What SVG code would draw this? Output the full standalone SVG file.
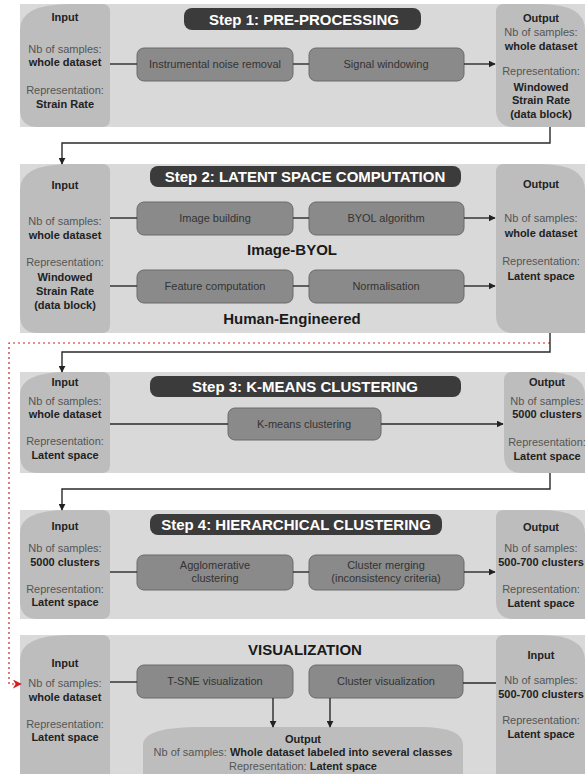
<svg xmlns="http://www.w3.org/2000/svg" width="586" height="774" viewBox="0 0 586 774">
<defs>
<marker id="ah" viewBox="0 0 10 10" refX="9" refY="5" markerWidth="7" markerHeight="7" orient="auto" markerUnits="userSpaceOnUse"><path d="M0,0 L10,5 L0,10 Z" fill="#222"/></marker>
<marker id="ahr" viewBox="0 0 10 10" refX="9" refY="5" markerWidth="9" markerHeight="9" orient="auto" markerUnits="userSpaceOnUse"><path d="M0,0 L10,5 L0,10 L3,5 Z" fill="#d21f1f"/></marker>
<style>
.panel{fill:#d9d9d9}
.io{fill:#bdbdbd}
.proc{fill:#8a8a8a;stroke:#6a6a6a;stroke-width:1}
.title{fill:#3b3b3b}
text{font-family:"Liberation Sans",Arial,sans-serif;text-anchor:middle}
.l{font-size:11px;fill:#555}
.b{font-size:11px;fill:#222;font-weight:bold}
.p{font-size:11px;fill:#333}
.t{font-size:15px;fill:#fff;font-weight:bold}
.h{font-size:15px;fill:#1a1a1a;font-weight:bold}
.c{fill:none;stroke:#2a2a2a;stroke-width:1.4}
.r{fill:none;stroke:#d21f1f;stroke-width:1.2;stroke-dasharray:2 3}
</style>
</defs>

<g id="step1">
<rect class="panel" x="20" y="4" width="565" height="123"/>
<path class="io" d="M20,30 Q20,4 70,4 L102,4 Q110,4 110,12 L110,119 Q110,127 102,127 L38,127 Q20,127 20,109 Z"/>
<path class="io" d="M496,12 Q496,4 504,4 L540,4 Q585,4 585,30 L585,127 L514,127 Q496,127 496,109 Z"/>
<rect class="title" x="184" y="8" width="237" height="22" rx="8"/>
<text class="t" x="304" y="25">Step 1: PRE-PROCESSING</text>
<text class="b" x="65" y="21">Input</text>
<text class="l" x="65" y="53">Nb of samples:</text>
<text class="b" x="65" y="66">whole dataset</text>
<text class="l" x="65" y="94">Representation:</text>
<text class="b" x="65" y="108">Strain Rate</text>
<rect class="proc" x="137" y="48" width="156" height="33" rx="7"/>
<text class="p" x="215" y="68">Instrumental noise removal</text>
<rect class="proc" x="309" y="48" width="155" height="33" rx="7"/>
<text class="p" x="386" y="68">Signal windowing</text>
<text class="b" x="541" y="22">Output</text>
<text class="l" x="541" y="36">Nb of samples:</text>
<text class="b" x="541" y="50">whole dataset</text>
<text class="l" x="541" y="75">Representation:</text>
<text class="b" x="541" y="91">Windowed</text>
<text class="b" x="541" y="104">Strain Rate</text>
<text class="b" x="541" y="118">(data block)</text>
</g>

<g id="step2">
<rect class="panel" x="20" y="164" width="565" height="169"/>
<path class="io" d="M20,190 Q20,164 70,164 L102,164 Q110,164 110,172 L110,325 Q110,333 102,333 L38,333 Q20,333 20,315 Z"/>
<path class="io" d="M496,172 Q496,164 504,164 L540,164 Q585,164 585,190 L585,333 L514,333 Q496,333 496,315 Z"/>
<rect class="title" x="150" y="166" width="311" height="21" rx="8"/>
<text class="t" x="305" y="182">Step 2: LATENT SPACE COMPUTATION</text>
<text class="b" x="65" y="189">Input</text>
<text class="l" x="65" y="225">Nb of samples:</text>
<text class="b" x="65" y="239">whole dataset</text>
<text class="l" x="65" y="266">Representation:</text>
<text class="b" x="65" y="281">Windowed</text>
<text class="b" x="65" y="295">Strain Rate</text>
<text class="b" x="65" y="309">(data block)</text>
<rect class="proc" x="137" y="202" width="156" height="33" rx="7"/>
<text class="p" x="215" y="222">Image building</text>
<rect class="proc" x="309" y="202" width="155" height="33" rx="7"/>
<text class="p" x="386" y="222">BYOL algorithm</text>
<text class="h" x="292" y="255">Image-BYOL</text>
<rect class="proc" x="137" y="270" width="156" height="33" rx="7"/>
<text class="p" x="215" y="290">Feature computation</text>
<rect class="proc" x="309" y="270" width="155" height="33" rx="7"/>
<text class="p" x="386" y="290">Normalisation</text>
<text class="h" x="292" y="324">Human-Engineered</text>
<text class="b" x="541" y="188">Output</text>
<text class="l" x="541" y="222">Nb of samples:</text>
<text class="b" x="541" y="237">whole dataset</text>
<text class="l" x="541" y="265">Representation:</text>
<text class="b" x="541" y="280">Latent space</text>
</g>

<g id="step3">
<rect class="panel" x="20" y="372" width="565" height="101"/>
<path class="io" d="M20,395 Q20,372 68,372 L102,372 Q110,372 110,380 L110,465 Q110,473 102,473 L38,473 Q20,473 20,455 Z"/>
<path class="io" d="M504,380 Q504,372 512,372 L545,372 Q585,372 585,395 L585,473 L522,473 Q504,473 504,455 Z"/>
<rect class="title" x="150" y="376" width="311" height="21" rx="8"/>
<text class="t" x="305" y="392">Step 3: K-MEANS CLUSTERING</text>
<text class="b" x="65" y="386">Input</text>
<text class="l" x="65" y="405">Nb of samples:</text>
<text class="b" x="65" y="418">whole dataset</text>
<text class="l" x="65" y="445">Representation:</text>
<text class="b" x="65" y="459">Latent space</text>
<rect class="proc" x="228" y="408" width="153" height="32" rx="7"/>
<text class="p" x="304" y="428">K-means clustering</text>
<text class="b" x="547" y="386">Output</text>
<text class="l" x="547" y="405">Nb of samples:</text>
<text class="b" x="547" y="418">5000 clusters</text>
<text class="l" x="547" y="446">Representation:</text>
<text class="b" x="547" y="460">Latent space</text>
</g>

<g id="step4">
<rect class="panel" x="20" y="510" width="565" height="109"/>
<path class="io" d="M20,533 Q20,510 68,510 L102,510 Q110,510 110,518 L110,611 Q110,619 102,619 L38,619 Q20,619 20,601 Z"/>
<path class="io" d="M496,518 Q496,510 504,510 L540,510 Q585,510 585,533 L585,619 L514,619 Q496,619 496,601 Z"/>
<rect class="title" x="150" y="514" width="292" height="21" rx="8"/>
<text class="t" x="296" y="530">Step 4: HIERARCHICAL CLUSTERING</text>
<text class="b" x="65" y="530">Input</text>
<text class="l" x="65" y="552">Nb of samples:</text>
<text class="b" x="65" y="566">5000 clusters</text>
<text class="l" x="65" y="593">Representation:</text>
<text class="b" x="65" y="606">Latent space</text>
<rect class="proc" x="137" y="555" width="156" height="35" rx="7"/>
<text class="p" x="215" y="569">Agglomerative</text>
<text class="p" x="215" y="582">clustering</text>
<rect class="proc" x="309" y="555" width="155" height="35" rx="7"/>
<text class="p" x="386" y="569">Cluster merging</text>
<text class="p" x="386" y="582">(inconsistency criteria)</text>
<text class="b" x="541" y="531">Output</text>
<text class="l" x="541" y="552">Nb of samples:</text>
<text class="b" x="541" y="566">500-700 clusters</text>
<text class="l" x="541" y="593">Representation:</text>
<text class="b" x="541" y="607">Latent space</text>
</g>

<g id="visualization">
<rect class="panel" x="20" y="635" width="565" height="139"/>
<path class="io" d="M20,660 Q20,635 70,635 L102,635 Q110,635 110,643 L110,774 L20,774 Z"/>
<path class="io" d="M496,643 Q496,635 504,635 L540,635 Q585,635 585,660 L585,774 L496,774 Z"/>
<text class="h" x="305" y="655">VISUALIZATION</text>
<text class="b" x="65" y="667">Input</text>
<text class="l" x="65" y="687">Nb of samples:</text>
<text class="b" x="65" y="701">whole dataset</text>
<text class="l" x="65" y="728">Representation:</text>
<text class="b" x="65" y="741">Latent space</text>
<rect class="proc" x="137" y="665" width="156" height="33" rx="7"/>
<text class="p" x="215" y="685">T-SNE visualization</text>
<rect class="proc" x="309" y="665" width="154" height="33" rx="7"/>
<text class="p" x="386" y="685">Cluster visualization</text>
<path class="io" d="M143,774 L143,745 Q143,727 200,727 L420,727 Q463,727 463,745 L463,774 Z"/>
<text class="b" x="303" y="743">Output</text>
<text class="l" x="303" y="756">Nb of samples: <tspan class="b">Whole dataset labeled into several classes</tspan></text>
<text class="l" x="303" y="770">Representation: <tspan class="b">Latent space</tspan></text>
<text class="b" x="541" y="659">Input</text>
<text class="l" x="541" y="684">Nb of samples:</text>
<text class="b" x="541" y="698">500-700 clusters</text>
<text class="l" x="541" y="724">Representation:</text>
<text class="b" x="541" y="738">Latent space</text>
</g>

<g id="connectors">
<line class="c" x1="110" y1="64" x2="137" y2="64"/>
<line class="c" x1="293" y1="64" x2="309" y2="64"/>
<line class="c" x1="464" y1="64" x2="495" y2="64" marker-end="url(#ah)"/>
<polyline class="c" points="550,127 550,143 62,143 62,164" marker-end="url(#ah)"/>
<line class="c" x1="110" y1="218" x2="137" y2="218"/>
<line class="c" x1="293" y1="218" x2="309" y2="218"/>
<line class="c" x1="464" y1="218" x2="495" y2="218" marker-end="url(#ah)"/>
<line class="c" x1="110" y1="286" x2="137" y2="286"/>
<line class="c" x1="293" y1="286" x2="309" y2="286"/>
<line class="c" x1="464" y1="286" x2="495" y2="286" marker-end="url(#ah)"/>
<path class="r" d="M550,343 L9,343 L9,684 L21,684" marker-end="url(#ahr)"/>
<polyline class="c" points="550,333 550,352 62,352 62,372" marker-end="url(#ah)"/>
<line class="c" x1="110" y1="424" x2="228" y2="424"/>
<line class="c" x1="381" y1="424" x2="503" y2="424" marker-end="url(#ah)"/>
<polyline class="c" points="550,473 550,489 62,489 62,510" marker-end="url(#ah)"/>
<line class="c" x1="110" y1="572" x2="137" y2="572"/>
<line class="c" x1="293" y1="572" x2="309" y2="572"/>
<line class="c" x1="464" y1="572" x2="495" y2="572" marker-end="url(#ah)"/>
<line class="c" x1="110" y1="682" x2="137" y2="682"/>
<line class="c" x1="463" y1="683" x2="496" y2="683"/>
<line class="c" x1="273" y1="698" x2="273" y2="727" marker-end="url(#ah)"/>
<line class="c" x1="330" y1="698" x2="330" y2="727" marker-end="url(#ah)"/>
</g>
</svg>
